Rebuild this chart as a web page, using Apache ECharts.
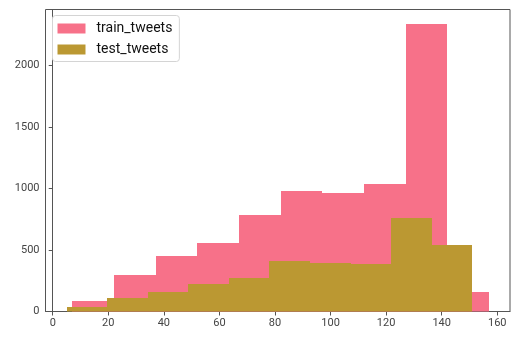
<!DOCTYPE html>
<html>
<head>
<meta charset="utf-8">
<script src="https://cdn.jsdelivr.net/npm/echarts@6/dist/echarts.min.js"></script>
<style>
html,body{margin:0;padding:0;background:#fff;}
#chart{width:520px;height:341px;}
</style>
</head>
<body>
<div id="chart"></div>
<script>
// Histogram bin edges and counts
var trainEdges = [7, 22, 37, 52, 67, 82, 97, 112, 127, 142, 157];
var trainCounts = [84, 295, 450, 555, 783, 978, 962, 1035, 2336, 157];
var testEdges = [5, 19.6, 34.2, 48.8, 63.4, 78, 92.6, 107.2, 121.8, 136.4, 151];
var testCounts = [35, 108, 157, 222, 273, 409, 393, 387, 758, 539];
var xTicks = [0, 20, 40, 60, 80, 100, 120, 140, 160];
var yTicks = [0, 500, 1000, 1500, 2000];

function toBins(edges, counts) {
  var out = [];
  for (var i = 0; i < counts.length; i++) out.push([edges[i], edges[i + 1], counts[i]]);
  return out;
}

function renderBar(params, api) {
  var p0 = api.coord([api.value(0), api.value(2)]);
  var p1 = api.coord([api.value(1), 0]);
  var x0 = Math.round(p0[0]), x1 = Math.round(p1[0]);
  var y0 = Math.round(p0[1]), y1 = p1[1];
  return {
    type: 'rect',
    shape: { x: x0, y: y0, width: x1 - x0, height: y1 - y0 },
    style: { fill: api.visual('color') }
  };
}

var chart = echarts.init(document.getElementById('chart'), null, { renderer: 'canvas' });
var axisColor = '#555';
var labelStyle = { color: '#444', fontFamily: 'Roboto', fontSize: 11 };

chart.setOption({
  animation: false,
  grid: { left: 45.5, right: 10, top: 9.5, bottom: 29.5, show: true, borderColor: axisColor, borderWidth: 1, backgroundColor: 'transparent' },
  legend: {
    orient: 'vertical',
    left: 52.5, top: 15.5,
    icon: 'rect',
    itemWidth: 28, itemHeight: 10,
    itemGap: 7,
    padding: [6, 7, 5, 5],
    borderColor: '#d4d4d4', borderWidth: 1, borderRadius: 3,
    backgroundColor: '#fff',
    textStyle: { color: '#111', fontFamily: 'Roboto', fontSize: 14, lineHeight: 14, padding: [0, 0, 0, 6] },
    data: ['train_tweets', 'test_tweets']
  },
  xAxis: {
    type: 'value', min: -2.6, max: 164.6,
    axisLine: { show: true, onZero: false, lineStyle: { color: axisColor } },
    axisTick: { show: true, length: 4, customValues: xTicks, lineStyle: { color: axisColor } },
    axisLabel: { customValues: xTicks, margin: 6, formatter: function (v) { return String(v); }, ...labelStyle },
    splitLine: { show: false }
  },
  yAxis: {
    type: 'value', min: 0, max: 2457,
    axisLine: { show: true, lineStyle: { color: axisColor } },
    axisTick: { show: true, length: 4, customValues: yTicks, lineStyle: { color: axisColor } },
    axisLabel: { customValues: yTicks, margin: 6, formatter: function (v) { return String(v); }, ...labelStyle },
    splitLine: { show: false }
  },
  series: [
    { name: 'train_tweets', type: 'custom', renderItem: renderBar, itemStyle: { color: '#f77189' },
      encode: { x: [0, 1], y: 2 }, data: toBins(trainEdges, trainCounts) },
    { name: 'test_tweets', type: 'custom', renderItem: renderBar, itemStyle: { color: '#bb9832' },
      encode: { x: [0, 1], y: 2 }, data: toBins(testEdges, testCounts) }
  ]
});
</script>
</body>
</html>
